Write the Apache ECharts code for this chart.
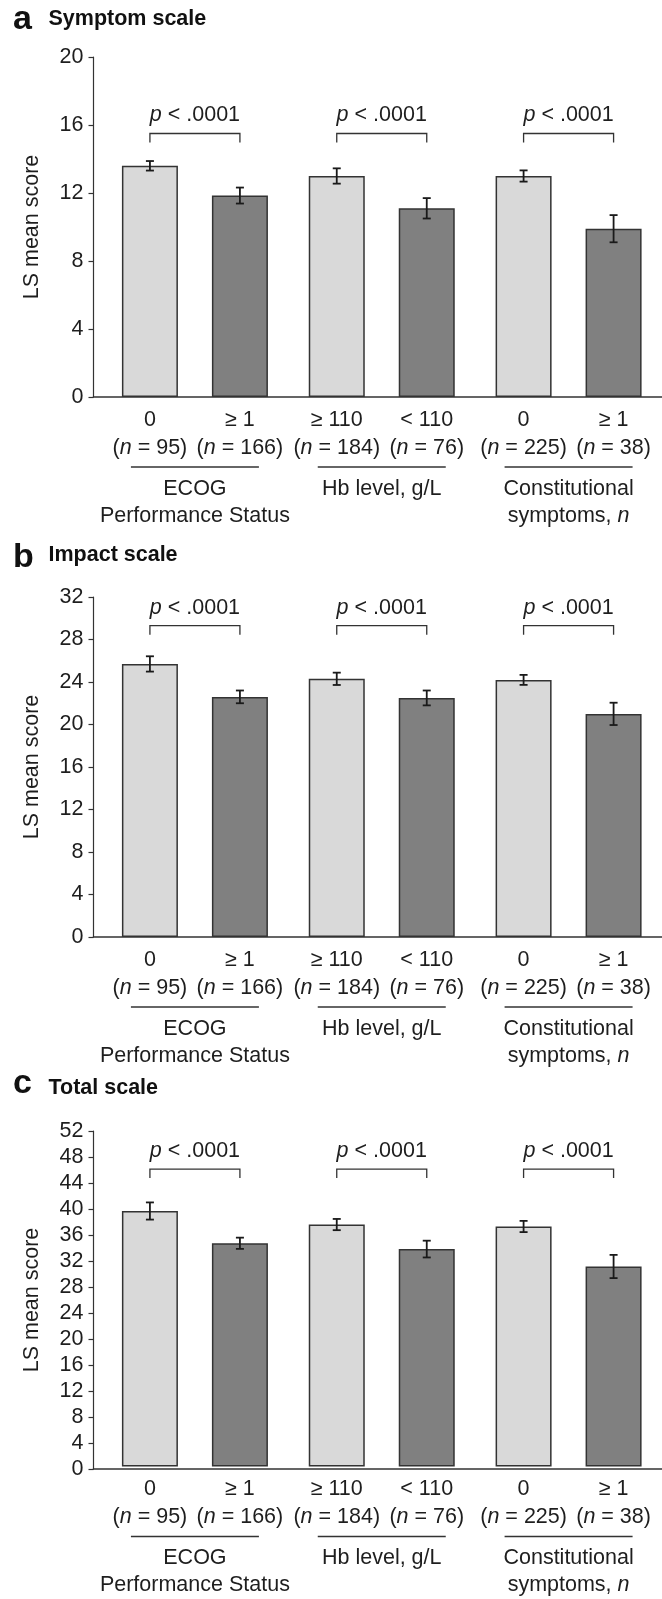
<!DOCTYPE html>
<html>
<head>
<meta charset="utf-8">
<script src="https://cdn.jsdelivr.net/npm/echarts@6/dist/echarts.min.js"></script>
<style>
  html, body { margin: 0; padding: 0; background: #fff; }
  #chart { width: 662px; height: 1599px; }
</style>
</head>
<body>
<div id="chart"></div>
<script>
// values
const groups = ['ECOG\nPerformance Status', 'Hb level, g/L', 'Constitutional\nsymptoms, n']
const lowLabels = ['0', '≥ 110', '0']
const highLabels = ['≥ 1', '< 110', '≥ 1']
const lowN = [95, 184, 225]
const highN = [166, 76, 38]

const symptomLow = [13.6, 13.0, 13.0]
const symptomLowErr = [0.28, 0.45, 0.33]
const symptomHigh = [11.85, 11.1, 9.9]
const symptomHighErr = [0.47, 0.6, 0.8]

const impactLow = [25.7, 24.3, 24.2]
const impactLowErr = [0.72, 0.58, 0.47]
const impactHigh = [22.6, 22.5, 21.0]
const impactHighErr = [0.6, 0.7, 1.05]

const totalLow = [39.6, 37.5, 37.2]
const totalLowErr = [1.33, 0.87, 0.87]
const totalHigh = [34.6, 33.7, 31.0]
const totalHighErr = [0.87, 1.3, 1.8]

const yMax = [20, 32, 52]
const yStep = 4
const bracketLevel = [15.5, 29.3, 46.1]
const pLabel = '{i|p} < .0001'
const panelLetters = ['a', 'b', 'c']
const panelTitles = ['Symptom scale', 'Impact scale', 'Total scale']

const panels = [
  { low: symptomLow, lowErr: symptomLowErr, high: symptomHigh, highErr: symptomHighErr },
  { low: impactLow, lowErr: impactLowErr, high: impactHigh, highErr: impactHighErr },
  { low: totalLow, lowErr: totalLowErr, high: totalHigh, highErr: totalHighErr }
]

// layout
const FONT = "'Liberation Sans', Arial, Helvetica, sans-serif"
const TXT = '#1e1e1e'
const LINE = '#333'
const LIGHT = '#d9d9d9'
const DARK = '#808080'
const FS = 21.5
const panelTop = [57, 597, 1131]
const panelHeight = [340, 340, 338]
const BAR_OFFSET = 45 // half distance between the two bar centres
const CAP = 4
const letterY = [19.8, 557.4, 1083.8]
const titleY = [19.2, 555.2, 1088.2]

const rich = {
  t: { fontSize: FS, fontFamily: FONT, color: TXT, lineHeight: 28 },
  i: { fontSize: FS, fontFamily: FONT, color: TXT, lineHeight: 28, fontStyle: 'italic' }
}
const groupRich = {
  t: { fontSize: FS, fontFamily: FONT, color: TXT, lineHeight: 27 },
  i: { fontSize: FS, fontFamily: FONT, color: TXT, lineHeight: 27, fontStyle: 'italic' }
}

function barLabel(labels, ns) {
  return function (p) {
    return '{t|' + labels[p.dataIndex] + '}\n{t|(}{i|n}{t| = ' + ns[p.dataIndex] + ')}'
  }
}

function errorSeries(k, means, errs, side) {
  return {
    type: 'custom',
    xAxisIndex: 2 * k,
    yAxisIndex: 2 * k,
    z: 5,
    clip: false,
    silent: true,
    data: means.map((m, i) => [i, m, errs[i]]),
    renderItem(params, api) {
      const i = api.value(0)
      const m = api.value(1)
      const e = api.value(2)
      const x = api.coord([i, m])[0] + side * BAR_OFFSET
      const top = api.coord([i, m + e])[1]
      const bot = api.coord([i, m - e])[1]
      const s = { stroke: '#1a1a1a', lineWidth: 1.8 }
      return {
        type: 'group',
        children: [
          { type: 'line', shape: { x1: x, y1: top, x2: x, y2: bot }, style: s },
          { type: 'line', shape: { x1: x - CAP, y1: top, x2: x + CAP, y2: top }, style: s },
          { type: 'line', shape: { x1: x - CAP, y1: bot, x2: x + CAP, y2: bot }, style: s }
        ]
      }
    }
  }
}

function annotationSeries(k) {
  return {
    type: 'custom',
    xAxisIndex: 2 * k,
    yAxisIndex: 2 * k,
    z: 5,
    clip: false,
    silent: true,
    data: groups.map((g, i) => [i, bracketLevel[k]]),
    renderItem(params, api) {
      const i = api.value(0)
      const p = api.coord([i, api.value(1)])
      const base = api.coord([i, 0])[1]
      const cx = p[0]
      const y = p[1]
      const ls = { stroke: LINE, lineWidth: 1.3, fill: null }
      return {
        type: 'group',
        children: [
          {
            type: 'polyline',
            shape: { points: [[cx - BAR_OFFSET, y + 9], [cx - BAR_OFFSET, y], [cx + BAR_OFFSET, y], [cx + BAR_OFFSET, y + 9]] },
            style: ls
          },
          {
            type: 'text',
            x: cx,
            y: y - 4,
            style: {
              text: pLabel,
              rich: rich,
              fontSize: FS,
              fontFamily: FONT,
              fill: TXT,
              align: 'center',
              verticalAlign: 'bottom'
            }
          },
          { type: 'line', shape: { x1: cx - 64, y1: base + 70, x2: cx + 64, y2: base + 70 }, style: ls }
        ]
      }
    }
  }
}

const grid = []
const xAxis = []
const yAxis = []
const series = []
const graphic = []

panels.forEach((pd, k) => {
  // grid for the bars
  grid.push({ left: 101.5, width: 566, top: panelTop[k], height: panelHeight[k] })
  // grid for the visible axes
  grid.push({ left: 93.5, right: 0, top: panelTop[k], height: panelHeight[k] })

  xAxis.push({
    type: 'category',
    gridIndex: 2 * k,
    data: groups,
    axisLine: { show: false },
    axisTick: { show: false },
    axisLabel: {
      interval: 0,
      margin: 78.5,
      fontSize: FS,
      fontFamily: FONT,
      color: TXT,
      lineHeight: 27,
      rich: groupRich,
      formatter: (v) => v.split('\n').map((l) => '{t|' + l.replace(/, n$/, ', }{i|n')  + '}').join('\n')
    }
  })
  yAxis.push({ type: 'value', gridIndex: 2 * k, min: 0, max: yMax[k], show: false })

  xAxis.push({
    type: 'value',
    gridIndex: 2 * k + 1,
    min: 0,
    max: 1,
    axisLine: { show: true, lineStyle: { color: LINE, width: 1.6 } },
    axisTick: { show: false },
    axisLabel: { show: false },
    splitLine: { show: false }
  })
  yAxis.push({
    type: 'value',
    gridIndex: 2 * k + 1,
    min: 0,
    max: yMax[k],
    interval: yStep,
    name: 'LS mean score',
    nameLocation: 'middle',
    nameGap: 50,
    nameTextStyle: { fontSize: FS, fontFamily: FONT, color: TXT },
    axisLine: { show: true, lineStyle: { color: LINE, width: 1.2 } },
    axisTick: { show: true, length: 5, lineStyle: { color: LINE, width: 1.2 } },
    axisLabel: { fontSize: FS, fontFamily: FONT, color: TXT, margin: 10 },
    splitLine: { show: false }
  })

  series.push({
    type: 'bar',
    xAxisIndex: 2 * k,
    yAxisIndex: 2 * k,
    data: pd.low,
    barWidth: 56,
    barGap: '60.7%',
    itemStyle: { color: LIGHT, borderColor: LINE, borderWidth: 1.5 },
    label: { show: true, position: 'bottom', distance: 9, rich: rich, formatter: barLabel(lowLabels, lowN) },
    silent: true
  })
  series.push({
    type: 'bar',
    xAxisIndex: 2 * k,
    yAxisIndex: 2 * k,
    data: pd.high,
    barWidth: 56,
    barGap: '60.7%',
    itemStyle: { color: DARK, borderColor: LINE, borderWidth: 1.5 },
    label: { show: true, position: 'bottom', distance: 9, rich: rich, formatter: barLabel(highLabels, highN) },
    silent: true
  })
  series.push(errorSeries(k, pd.low, pd.lowErr, -1))
  series.push(errorSeries(k, pd.high, pd.highErr, 1))
  series.push(annotationSeries(k))

  graphic.push({
    type: 'text',
    x: 13,
    y: letterY[k],
    style: { text: panelLetters[k], fontSize: 34, fontWeight: 'bold', fontFamily: FONT, fill: '#111', verticalAlign: 'middle' }
  })
  graphic.push({
    type: 'text',
    x: 48.5,
    y: titleY[k],
    style: { text: panelTitles[k], fontSize: FS, fontWeight: 'bold', fontFamily: FONT, fill: '#111', verticalAlign: 'middle' }
  })
})

const myChart = echarts.init(document.getElementById('chart'))
myChart.setOption({
  animation: false,
  grid: grid,
  xAxis: xAxis,
  yAxis: yAxis,
  series: series,
  graphic: graphic
})
</script>
</body>
</html>
